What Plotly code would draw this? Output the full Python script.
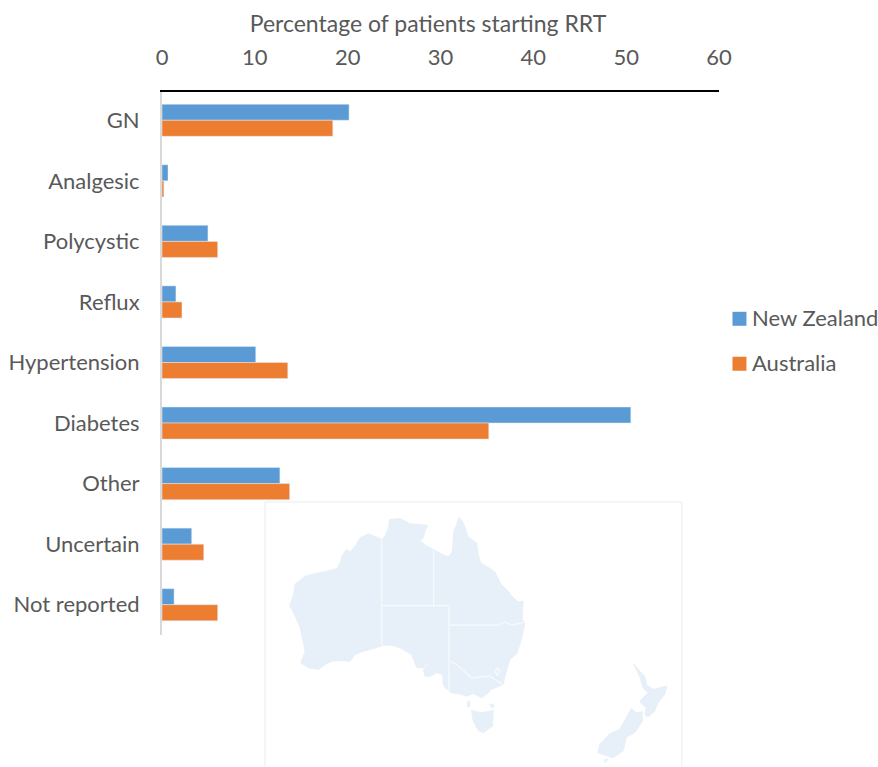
import plotly.graph_objects as go

categories = ["GN", "Analgesic", "Polycystic", "Reflux", "Hypertension", "Diabetes", "Other", "Uncertain", "Not reported"]
new_zealand = [20.15, 0.65, 4.95, 1.5, 10.1, 50.5, 12.7, 3.2, 1.3]
australia = [18.4, 0.2, 6.0, 2.15, 13.55, 35.2, 13.75, 4.5, 6.0]
x_ticks = [0, 10, 20, 30, 40, 50, 60]
x_title = "Percentage of patients starting RRT"
series_names = ["New Zealand", "Australia"]
series_colors = ["#5b9bd5", "#ed7d31"]

W, H = 878, 767
L, R, T, B = 161.5, 719.5, 92, 635.5
FONT = "Lato"
GREY = "#595959"

# Decorative background map outlines (pixels in an enlarged crop)
OX, OY, Z = 260, 495, 3
aus = [(88,335),(100,300),(105,268),(118,258),(135,245),(160,238),(200,230),(230,222),(240,205),(245,185),(258,165),(270,172),(285,155),(300,130),(325,118),(350,128),(365,135),(375,125),(385,100),(388,75),(420,72),(450,88),(503,92),(495,110),(490,128),(480,138),(500,155),(520,165),(545,178),(565,187),(575,175),(578,165),(580,130),(582,110),(590,90),(597,68),(610,85),(625,128),(650,145),(655,180),(662,205),(690,222),(705,232),(722,268),(745,290),(760,310),(775,322),(790,320),(787,375),(795,385),(788,420),(780,450),(770,478),(750,495),(745,510),(735,545),(730,570),(695,585),(680,600),(665,610),(640,597),(620,605),(595,598),(575,595),(555,580),(550,570),(548,540),(530,535),(510,545),(495,545),(490,525),(505,510),(517,485),(505,505),(490,520),(470,520),(455,480),(420,460),(395,452),(370,452),(340,462),(310,470),(285,480),(270,500),(240,498),(215,500),(195,510),(175,525),(145,520),(122,505),(135,470),(120,400),(105,365),(95,345)]
tas = [(635,648),(665,655),(700,648),(698,695),(670,715),(655,708),(640,680)]
king_is = [(622,622),(630,622),(628,638),(622,636)]
flinders = [(690,628),(702,632),(700,640),(692,636)]
nz_n = [(1122,508),(1140,530),(1155,545),(1160,570),(1180,585),(1222,575),(1215,600),(1195,625),(1185,650),(1165,668),(1155,660),(1160,640),(1140,622),(1165,595),(1150,580),(1140,545)]
nz_s = [(1115,642),(1130,655),(1148,652),(1148,680),(1125,715),(1100,728),(1090,770),(1060,790),(1015,775),(1020,750),(1050,718),(1080,705),(1100,670)]
stewart = [(1035,795),(1045,795),(1035,806)]
borders = [
    [(365,135),(365,452)],
    [(365,333),(567,333)],
    [(521,165),(521,333)],
    [(567,333),(567,590)],
    [(567,392),(715,392),(735,382),(755,392),(795,383)],
    [(567,498),(590,510),(635,550),(690,545),(730,572)],
    [(705,530),(713,520),(720,530),(712,542),(705,530)],
]
frame = [(14,816),(14,22),(1267,22),(1267,816)]

def paper_x(x):
    return (x - L) / (R - L)

def paper_y(y):
    return (B - y) / (B - T)

def path(pts, close):
    s = "M" + " L".join(f"{paper_x(OX + p[0] / Z):.5f},{paper_y(OY + p[1] / Z):.5f}" for p in pts)
    return s + (" Z" if close else "")

shapes = [dict(type="path", xref="paper", yref="paper", layer="below", path=path(frame, False),
               line=dict(color="#ececec", width=1))]
for poly in (aus, tas, king_is, flinders, nz_n, nz_s, stewart):
    shapes.append(dict(type="path", xref="paper", yref="paper", layer="below", path=path(poly, True),
                       fillcolor="#e7f0f8", line=dict(color="#e7f0f8", width=1)))
for b in borders:
    shapes.append(dict(type="path", xref="paper", yref="paper", layer="below", path=path(b, False),
                       line=dict(color="#f7fafd", width=1.2)))

# Legend, placed by hand because the swatch-to-text gap is narrower than the built-in legend allows
legend_swatch_x = (733, 747)
legend_text_x = 753
legend_y = [318, 363]
annotations = []
for name, color, y in zip(series_names, series_colors, legend_y):
    shapes.append(dict(type="rect", xref="paper", yref="paper", layer="above",
                       x0=paper_x(legend_swatch_x[0]), x1=paper_x(legend_swatch_x[1]),
                       y0=paper_y(y + 8), y1=paper_y(y - 6), fillcolor=color, line=dict(width=0)))
    annotations.append(dict(xref="paper", yref="paper", x=paper_x(legend_text_x), y=paper_y(y),
                            xanchor="left", yanchor="middle", showarrow=False, text=name, borderpad=0, borderwidth=0,
                            font=dict(family=FONT, size=22, color=GREY)))

fig = go.Figure()
fig.add_trace(go.Bar(name=series_names[0], y=categories, x=new_zealand, orientation="h", marker_color=series_colors[0]))
fig.add_trace(go.Bar(name=series_names[1], y=categories, x=australia, orientation="h", marker_color=series_colors[1]))

fig.update_layout(
    width=W, height=H, autosize=False,
    margin=dict(l=L, r=W - R, t=T, b=H - B, pad=0),
    paper_bgcolor="white", plot_bgcolor="rgba(0,0,0,0)",
    font=dict(family=FONT, size=22, color=GREY),
    barmode="group", bargap=0.47, bargroupgap=0,
    shapes=shapes, annotations=annotations, showlegend=False,
    title=dict(text=x_title, font=dict(family=FONT, size=23, color=GREY),
               xref="paper", x=paper_x(428), xanchor="center",
               yref="container", y=1 - 24 / H, yanchor="middle"),
    xaxis=dict(side="top", range=[0, 60], tickmode="array", tickvals=x_ticks, ticks="", showgrid=False,
               zeroline=False, showline=True, linecolor="black", linewidth=2, ticklabelstandoff=16,
               automargin=False),
    yaxis=dict(type="category", categoryorder="array", categoryarray=categories, range=[8.5, -0.467],
               ticks="", showgrid=False, zeroline=False, showline=True, linecolor="#d9d9d9", linewidth=2,
               ticklabelstandoff=16, automargin=False),
)

# The page's default body margin would push the figure 8px in and clip its right edge
fig.write_html("out.html", post_script="document.body.style.margin = '0';", config={"displayModeBar": False})
